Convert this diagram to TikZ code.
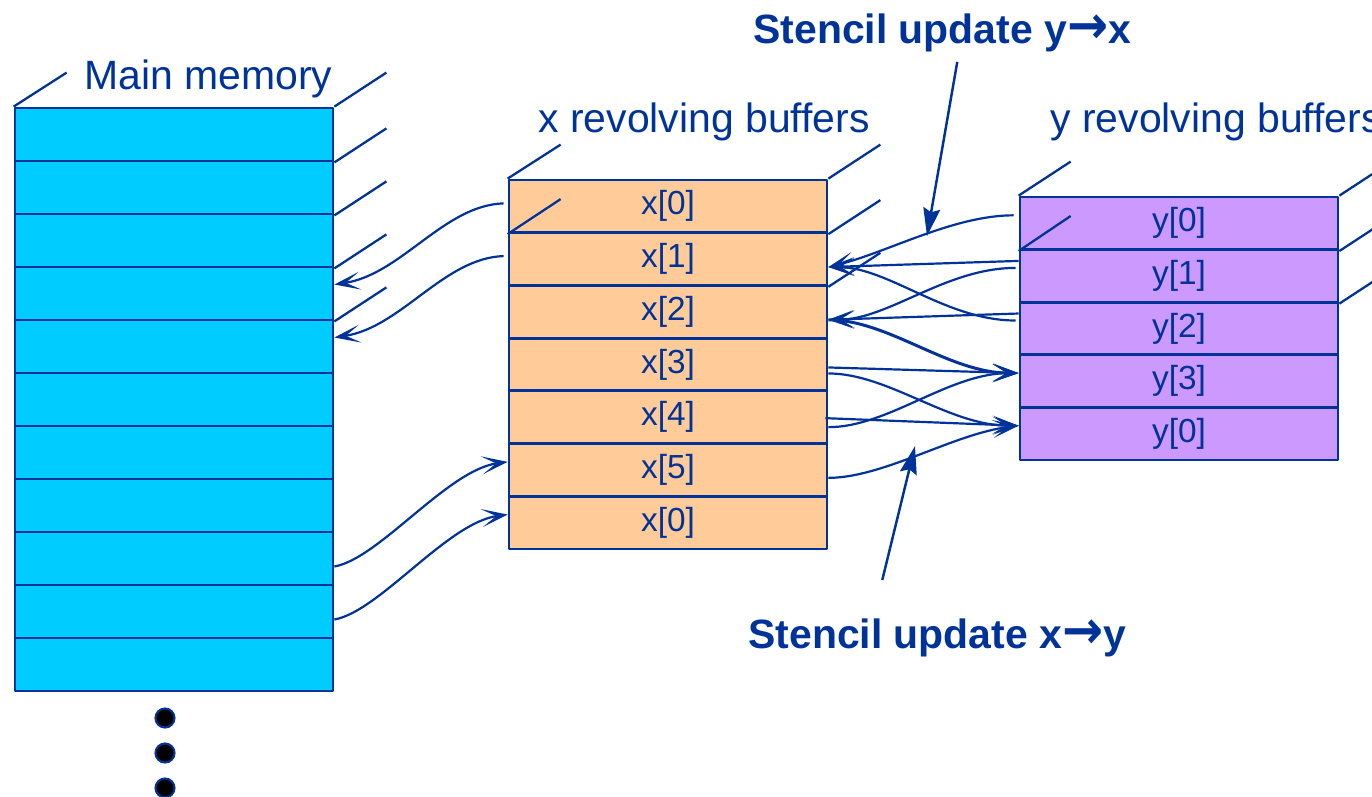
\documentclass[tikz,border=0pt]{standalone}
\usepackage{fontspec}
\setmainfont{Liberation Sans}
\newfontfamily\arrowfont{DejaVu Sans}
\usetikzlibrary{positioning,arrows.meta,calc}
\definecolor{InkBlue}{RGB}{0,51,153}
\definecolor{MemCyan}{RGB}{0,204,255}
\definecolor{XPeach}{RGB}{255,204,153}
\definecolor{YLilac}{RGB}{204,153,255}
\newcommand{\bigto}{\scalebox{1.2}[1.3]{\arrowfont\bfseries →}}

\begin{document}
\begin{tikzpicture}[x=0.02cm, y=-0.02cm, line join=round,
  every node/.style={inner sep=0pt, text=InkBlue},
  cell/.style={draw=InkBlue, line width=1.6pt, minimum width=6.36cm,
        minimum height=1.06cm, font=\fontsize{19}{22}\selectfont},
  memcell/.style={cell, fill=MemCyan},
  xcell/.style={cell, fill=XPeach, minimum height=1.054cm},
  ycell/.style={cell, fill=YLilac, minimum height=1.052cm},
  title/.style={anchor=base west, font=\fontsize{23.3}{28}\selectfont},
  boldtitle/.style={anchor=base west, font=\fontsize{23.3}{28}\selectfont\bfseries},
  edge3d/.style={draw=InkBlue, line width=1.3pt},
  flow/.style={draw=InkBlue, line width=1.25pt,
        -{Stealth[length=5.2mm, width=3.6mm, inset=2.9mm]}},
  callout/.style={draw=InkBlue, line width=1.4pt,
        -{Stealth[length=5.6mm, width=3.4mm, inset=0.8mm]}},
  dot/.style={circle, fill=black, draw=InkBlue, line width=1.2pt, minimum size=0.38cm}]
  \useasboundingbox (0,0) rectangle (1372,796);

  % main memory
  \node[memcell] (m1) at (174,134.5) {};
  \node[memcell] (m2) at (174,187.5) {};
  \node[memcell] (m3) at (174,240.5) {};
  \node[memcell] (m4) at (174,293.5) {};
  \node[memcell] (m5) at (174,346.5) {};
  \node[memcell] (m6) at (174,399.5) {};
  \node[memcell] (m7) at (174,452.5) {};
  \node[memcell] (m8) at (174,505.5) {};
  \node[memcell] (m9) at (174,558.5) {};
  \node[memcell] (m10) at (174,611.5) {};
  \node[memcell] (m11) at (174,664.5) {};
  \draw[edge3d] (m1.north west) -- +(53,-34);
  \draw[edge3d] (m1.north east) -- +(52,-34);
  \draw[edge3d] (m1.south east) -- +(52,-34);
  \draw[edge3d] (m2.south east) -- +(52,-34);
  \draw[edge3d] (m3.south east) -- +(52,-34);
  \draw[edge3d] (m4.south east) -- +(52,-34);
  \node[title] (memlbl) at (84,89) {Main memory};
  \node[dot] (dot1) at (165,718) {};
  \node[dot] (dot2) at (165,753) {};
  \node[dot] (dot3) at (165,788) {};

  % x revolving buffers
  \node[xcell] (xr0) at (668,206.35) {x[0]};
  \node[xcell] (xr1) at (668,259.05) {x[1]};
  \node[xcell] (xr2) at (668,311.75) {x[2]};
  \node[xcell] (xr3) at (668,364.45) {x[3]};
  \node[xcell] (xr4) at (668,417.15) {x[4]};
  \node[xcell] (xr5) at (668,469.85) {x[5]};
  \node[xcell] (xr6) at (668,522.55) {x[0]};
  \draw[edge3d] (xr0.north west) -- +(53,-34);
  \draw[edge3d] (xr0.south west) -- +(53,-35);
  \draw[edge3d] (xr0.north east) -- +(52,-34);
  \draw[edge3d] (xr0.south east) -- +(52,-34);
  \draw[edge3d] (xr1.south east) -- +(52,-34);
  \node[title] (xlbl) at (538,132) {x revolving buffers};

  % y revolving buffers
  \node[ycell] (yr0) at (1179,223.3) {y[0]};
  \node[ycell] (yr1) at (1179,275.9) {y[1]};
  \node[ycell] (yr2) at (1179,328.5) {y[2]};
  \node[ycell] (yr3) at (1179,381.1) {y[3]};
  \node[ycell] (yr4) at (1179,433.7) {y[0]};
  \draw[edge3d] (yr0.north west) -- +(52,-34);
  \draw[edge3d] (yr0.south west) -- +(52,-35);
  \draw[edge3d] (yr0.north east) -- +(52,-34);
  \draw[edge3d] (yr0.south east) -- +(52,-34);
  \draw[edge3d] (yr1.south east) -- +(52,-34);
  \node[title] (ylbl) at (1050,132) {y revolving buffers};

  % memory <-> x buffers
  \draw[flow] ($(xr0.west)+(-4,-3)$) .. controls +(-60,2) and +(67,-10) .. ($(m4.east)+(0,-9)$);
  \draw[flow] ($(xr1.west)+(-4,-3)$) .. controls +(-60,2) and +(67,-10) .. ($(m5.east)+(0,-9)$);
  \draw[flow] ($(m9.east)+(0,8)$) .. controls +(45,-8) and +(-60,8) .. ($(xr5.west)+(0,-8)$);
  \draw[flow] ($(m10.east)+(0,8)$) .. controls +(45,-8) and +(-60,8) .. ($(xr6.west)+(0,-8)$);

  % y -> x
  \draw[flow] ($(yr0.west)+(-5,-8)$) .. controls +(-60,0) and +(60,-15) .. ($(xr1.east)+(0,8)$);
  \draw[flow] ($(yr1.west)+(0,-15)$) -- ($(xr1.east)+(0,8)$);
  \draw[flow] ($(yr2.west)+(-3,-8)$) .. controls +(-70,0) and +(60,0) .. ($(xr1.east)+(0,8)$);
  \draw[flow] ($(yr1.west)+(-3,-8)$) .. controls +(-70,0) and +(60,0) .. ($(xr2.east)+(0,8)$);
  \draw[flow] ($(yr2.west)+(0,-15)$) -- ($(xr2.east)+(0,8)$);

  % x -> y
  \draw[flow, line width=1.7pt] ($(xr2.east)+(0,8)$) .. controls +(60,0) and +(-70,0) .. ($(yr3.west)+(0,-8)$);
  \draw[flow] ($(xr3.east)+(0,3)$) -- ($(yr3.west)+(0,-8)$);
  \draw[flow] ($(xr4.east)+(0,10)$) .. controls +(60,0) and +(-70,0) .. ($(yr3.west)+(0,-8)$);
  \draw[flow] ($(xr3.east)+(0,9)$) .. controls +(60,0) and +(-70,0) .. ($(yr4.west)+(0,-8)$);
  \draw[flow] ($(xr4.east)+(-3,1)$) -- ($(yr4.west)+(0,-8)$);
  \draw[flow] ($(xr5.east)+(0,8)$) .. controls +(55,0) and +(-65,8) .. ($(yr4.west)+(0,-8)$);

  % stencil labels
  \node[boldtitle] (upyx) at (753,43) {Stencil update y\bigto x};
  \node[boldtitle] (upxy) at (748,648) {Stencil update x\bigto y};
  \coordinate (hityx) at (927,236);
  \coordinate (hitxy) at (915,446);
  \draw[callout] ($(upyx.south)+(15,10)$) -- (hityx);
  \draw[callout] ($(upxy.north)+(-55,-38)$) -- (hitxy);
\end{tikzpicture}
\end{document}
